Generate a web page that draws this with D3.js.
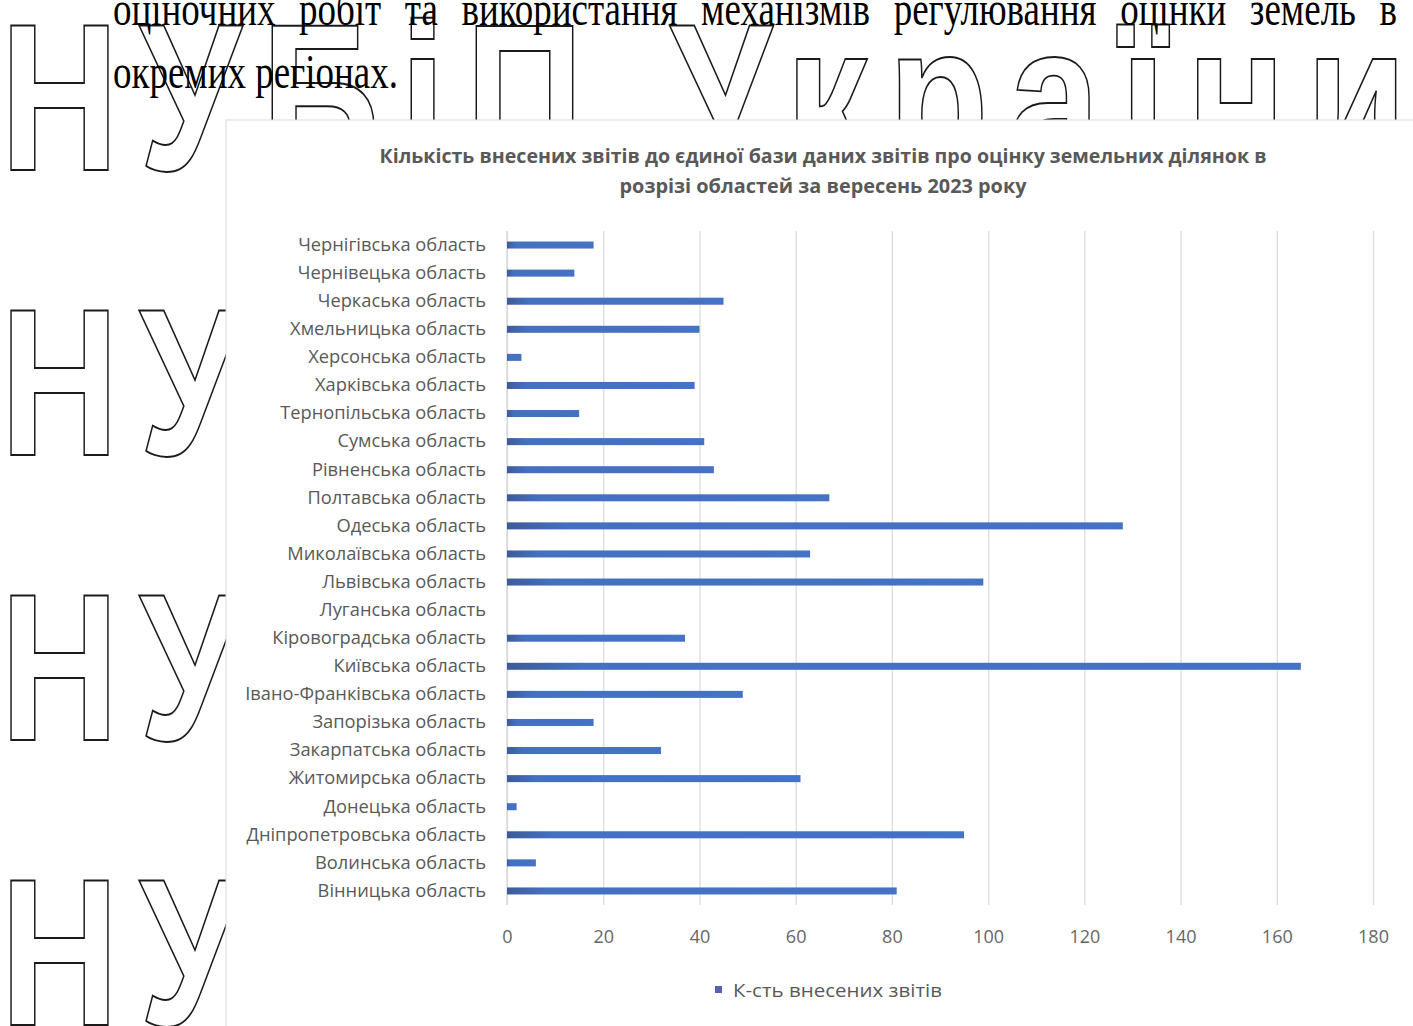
<!DOCTYPE html>
<html lang="uk">
<head>
<meta charset="utf-8">
<script src="https://cdn.jsdelivr.net/npm/d3@7"></script>
<style>
  html, body { margin: 0; padding: 0; background: #fff; overflow: hidden; }
  svg { display: block; }
</style>
</head>
<body>
<svg id="page" width="1413" height="1026"></svg>
<script>
// Regions, listed in the workbook order (bottom to top on the chart)
const categories = [
  "Вінницька область", "Волинська область", "Дніпропетровська область", "Донецька область",
  "Житомирська область", "Закарпатська область", "Запорізька область", "Івано-Франківська область",
  "Київська область", "Кіровоградська область", "Луганська область", "Львівська область",
  "Миколаївська область", "Одеська область", "Полтавська область", "Рівненська область",
  "Сумська область", "Тернопільська область", "Харківська область", "Херсонська область",
  "Хмельницька область", "Черкаська область", "Чернівецька область", "Чернігівська область"
];
// Number of reports entered, September 2023
const counts = [81, 6, 95, 2, 61, 32, 18, 49, 165, 37, 0, 99, 63, 128, 67, 43, 41, 15, 39, 3, 40, 45, 14, 18];
const xTicks = [0, 20, 40, 60, 80, 100, 120, 140, 160, 180];
const seriesName = "К-сть внесених звітів";
const titleLines = [
  "Кількість внесених звітів до єдиної бази даних звітів про оцінку земельних ділянок в",
  "розрізі областей за вересень 2023 року"
];
const bodyLine1 = "оціночних робіт та використання механізмів регулювання оцінки земель в";
const bodyLine2 = "окремих регіонах.";
const watermarkText = "НУБіП України";

const svg = d3.select("#page");

// ---- page watermark: outlined lettering repeated down the page ----
const wmScaleX = 0.785;
const wm = svg.append("g")
  .attr("fill", "none")
  .attr("stroke", "#1a1a1a")
  .attr("stroke-width", 1.7)
  .attr("font-family", "'Liberation Sans', Arial, sans-serif")
  .attr("font-weight", "bold")
  .attr("font-size", 210);
[170, 455, 740, 1025].forEach(baseline => {
  wm.append("text")
    .attr("transform", `translate(0,${baseline}) scale(${wmScaleX},1)`)
    .attr("x", 0)
    .attr("y", 0)
    .style("vector-effect", "non-scaling-stroke")
    .attr("textLength", 1407 / wmScaleX)
    .attr("lengthAdjust", "spacing")
    .text(watermarkText);
});

// ---- body text of the page (justified first line, narrow serif) ----
const body = svg.append("g")
  .attr("font-family", "'Liberation Serif', 'Times New Roman', serif")
  .attr("font-size", 48)
  .attr("fill", "#000");

const probe = body.append("text").text(bodyLine2);
const natural2 = probe.node().getComputedTextLength();
probe.remove();
const sx = 285 / natural2;

body.append("text")
  .attr("transform", `translate(113,88) scale(${sx},1)`)
  .text(bodyLine2);

const words = bodyLine1.split(" ");
const widths = words.map(w => {
  const t = body.append("text").text(w);
  const len = t.node().getComputedTextLength() * sx;
  t.remove();
  return len;
});
const lineStart = 113, lineEnd = 1397;
const gap = (lineEnd - lineStart - d3.sum(widths)) / (words.length - 1);
let cursor = lineStart;
words.forEach((w, i) => {
  body.append("text")
    .attr("transform", `translate(${cursor},25) scale(${sx},1)`)
    .text(w);
  cursor += widths[i] + gap;
});

// ---- chart ----
const chartBox = { x: 226, y: 120, w: 1200, h: 920 };
const chart = svg.append("g");
chart.append("rect")
  .attr("x", chartBox.x).attr("y", chartBox.y)
  .attr("width", chartBox.w).attr("height", chartBox.h)
  .attr("fill", "#fff")
  .attr("stroke", "#d9d9d9")
  .attr("stroke-width", 1);

const plot = { left: 507, right: 1373, top: 231, bottom: 905 };

const x = d3.scaleLinear().domain([0, 180]).range([plot.left, plot.right]);
const y = d3.scaleBand()
  .domain(categories)
  .range([plot.bottom, plot.top])
  .paddingInner(0.75)
  .paddingOuter(0.375);

// bar fill with a slightly darker leading edge
const defs = svg.append("defs");
const grad = defs.append("linearGradient").attr("id", "barFill")
  .attr("x1", "0%").attr("x2", "100%").attr("y1", "0%").attr("y2", "0%");
grad.append("stop").attr("offset", "0%").attr("stop-color", "#3e5b98");
grad.append("stop").attr("offset", "10%").attr("stop-color", "#4470c0");
grad.append("stop").attr("offset", "100%").attr("stop-color", "#4472c4");

// vertical gridlines
const grid = chart.append("g")
  .attr("transform", `translate(0,${plot.bottom})`)
  .call(d3.axisBottom(x).tickValues(xTicks).tickSize(-(plot.bottom - plot.top)).tickFormat(""));
grid.select(".domain").remove();
grid.selectAll(".tick line").attr("stroke", "#dcdcdc").attr("stroke-width", 1.3);

// category axis line
chart.append("line")
  .attr("x1", x(0)).attr("x2", x(0))
  .attr("y1", plot.top).attr("y2", plot.bottom)
  .attr("stroke", "#d9d9d9").attr("stroke-width", 1.3);

// bars
chart.append("g")
  .selectAll("rect")
  .data(categories.map((c, i) => ({ c, v: counts[i] })))
  .join("rect")
  .attr("x", x(0))
  .attr("y", d => y(d.c))
  .attr("width", d => x(d.v) - x(0))
  .attr("height", y.bandwidth())
  .attr("fill", "url(#barFill)");

// value axis labels
const xAxis = chart.append("g")
  .attr("transform", `translate(0,${plot.bottom})`)
  .call(d3.axisBottom(x).tickValues(xTicks).tickSize(0).tickPadding(25));
xAxis.select(".domain").remove();
xAxis.selectAll("text")
  .attr("font-family", "'Open Sans', 'Noto Sans', sans-serif")
  .attr("font-size", 18)
  .attr("fill", "#666");

// category labels
const yAxis = chart.append("g")
  .attr("transform", `translate(${plot.left},0)`)
  .call(d3.axisLeft(y).tickSize(0).tickPadding(21));
yAxis.select(".domain").remove();
yAxis.selectAll("text")
  .attr("font-family", "'Open Sans', 'Noto Sans', sans-serif")
  .attr("font-size", 18.3)
  .attr("fill", "#595959");

// title
const title = chart.append("g")
  .attr("font-family", "'Open Sans', 'Noto Sans', sans-serif")
  .attr("font-weight", "bold")
  .attr("font-size", 19)
  .attr("fill", "#595959")
  .attr("text-anchor", "middle");
title.append("text").attr("x", 823).attr("y", 163)
  .attr("textLength", 887).attr("lengthAdjust", "spacingAndGlyphs").text(titleLines[0]);
title.append("text").attr("x", 823).attr("y", 193)
  .attr("textLength", 407).attr("lengthAdjust", "spacingAndGlyphs").text(titleLines[1]);

// legend
const legend = chart.append("g").attr("transform", "translate(715,990)");
legend.append("rect").attr("x", 0).attr("y", -4).attr("width", 7).attr("height", 7).attr("fill", "#5a5fb0");
legend.append("text")
  .attr("x", 18).attr("y", 7)
  .attr("font-family", "'Open Sans', 'Noto Sans', sans-serif")
  .attr("font-size", 19)
  .attr("fill", "#595959")
  .attr("textLength", 209)
  .attr("lengthAdjust", "spacingAndGlyphs")
  .text(seriesName);
</script>
</body>
</html>
